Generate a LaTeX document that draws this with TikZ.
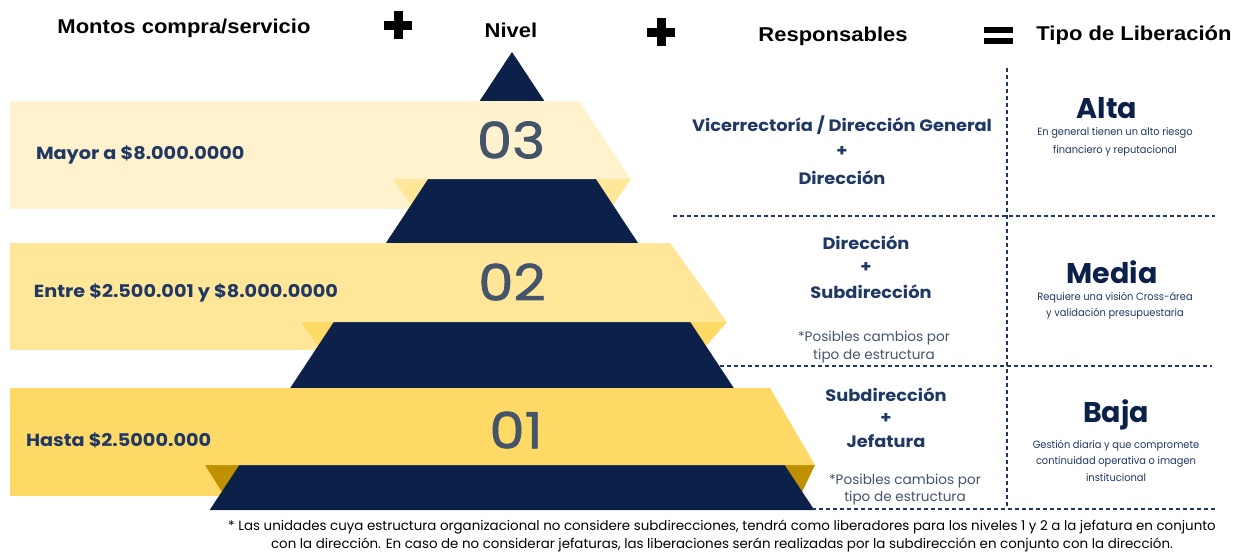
\documentclass[tikz,border=0pt]{standalone}
\usepackage{fontspec}
\setmainfont{Poppins}
\newfontfamily\hdr[FakeStretch=1.1]{Liberation Sans}
\newfontfamily\popw[FakeStretch=1.1]{Poppins}
\newfontfamily\popr[FakeStretch=1.08]{Poppins}
\newfontfamily\popn[FakeStretch=0.94]{Poppins}
\newfontfamily\digits[FakeStretch=1.12,FakeBold=1.5]{Poppins}
\definecolor{navy}{HTML}{0B2149}
\definecolor{tnavy}{HTML}{1F3864}
\definecolor{greyblue}{HTML}{44546A}
\definecolor{cthree}{HTML}{FFF2CC}
\definecolor{cthreef}{HTML}{FFE699}
\definecolor{ctwo}{HTML}{FFE699}
\definecolor{ctwof}{HTML}{FFD966}
\definecolor{cone}{HTML}{FFD966}
\definecolor{conef}{HTML}{BF9000}
\tikzset{
  txt/.style={inner sep=0pt, outer sep=0pt},
  head/.style={txt, font=\hdr\bfseries\fontsize{20}{23}\selectfont, text=black},
  band/.style={txt, anchor=west, font=\popw\bfseries\fontsize{17.5}{20}\selectfont, text=tnavy},
  lvl/.style={txt, font=\digits\fontsize{50}{54}\selectfont, text=greyblue},
  resp/.style={txt, font=\popr\bfseries\fontsize{16.5}{19}\selectfont, text=tnavy},
  note/.style={txt, font=\fontsize{13.6}{16}\selectfont, text=greyblue},
  kind/.style={txt, font=\bfseries\fontsize{28.5}{31}\selectfont, text=navy},
  desc/.style={txt, font=\popn\fontsize{10.5}{12}\selectfont, text=tnavy},
  foot/.style={txt, font=\fontsize{13.4}{15}\selectfont, text=black},
  sep/.style={draw=tnavy, line width=1.1pt, dash pattern=on 4pt off 3pt},
}
\begin{document}
\begin{tikzpicture}[x=1pt,y=-1pt]
\useasboundingbox (0,0) rectangle (1243,554);
% header
\node[head] (h1) at (184,28) {Montos compra/servicio};
\node[head] (h2) at (511,30) {Nivel};
\node[head] (h3) at (833,36) {Responsables};
\node[head] (h4) at (1134,35) {Tipo de Liberación};
\fill[black] (384,21) rectangle (412,30);
\fill[black] (393.5,11) rectangle (402.5,39);
\fill[black] (647,27.5) rectangle (675,36.5);
\fill[black] (656.5,18) rectangle (665.5,46);
\fill[black] (984,27) rectangle (1013,33);
\fill[black] (984,38) rectangle (1013,44);
% band rects
\fill[cthree] (10,101) rectangle (420,209);
\fill[ctwo] (10,243) rectangle (330,350);
\fill[cone] (10,388) rectangle (235,496);
% folds
\fill[cthreef] (393,179) -- (440,179) -- (411,205) -- cycle;
\fill[cthreef] (631,179) -- (584,179) -- (613,205) -- cycle;
\fill[ctwof] (301,322) -- (345,322) -- (318,346) -- cycle;
\fill[ctwof] (727,322) -- (679,322) -- (706,346) -- cycle;
\fill[conef] (205,465) -- (250,465) -- (222,492) -- cycle;
\fill[conef] (815,465) -- (774,465) -- (802,492) -- cycle;
% pyramid
\fill[navy] (512,52) -- (814.3,510) -- (209.7,510) -- cycle;
% ribbon tops
\fill[cthree] (10,101) -- (579,101) -- (631,179) -- (10,179) -- cycle;
\fill[ctwo] (10,243) -- (670,243) -- (727,322) -- (10,322) -- cycle;
\fill[cone] (10,388) -- (770,388) -- (815,465) -- (10,465) -- cycle;
% band texts
\node[band] (b3) at (36,155) {Mayor a \$8.000.0000};
\node[band] (b2) at (34,293) {Entre \$2.500.001 y \$8.000.0000};
\node[band] (b1) at (26,440) {Hasta \$2.5000.000};
\node[lvl] (l3) at (511,140) {03};
\node[lvl] (l2) at (512,282) {02};
\node[lvl] (l1) at (516,430) {01};
% separators
\draw[sep] (1007,68) -- (1007,508);
\draw[sep] (673,216) -- (1215,216);
\draw[sep] (720,366) -- (1212,366);
\draw[sep] (812,509) -- (1215,509);
% responsables
\node[resp] (r3a) at (842,125) {Vicerrectoría / Dirección General};
\node[resp] (r3b) at (842,152) {+};
\node[resp] (r3c) at (842,178) {Dirección};
\node[resp] (r2a) at (866,243) {Dirección};
\node[resp] (r2b) at (866,268) {+};
\node[resp] (r2c) at (871,292) {Subdirección};
\node[note] (n2a) at (874,338) {*Posibles cambios por};
\node[note] (n2b) at (874,356) {tipo de estructura};
\node[resp] (r1a) at (886,395) {Subdirección};
\node[resp] (r1b) at (886,419) {+};
\node[resp] (r1c) at (886,441) {Jefatura};
\node[note] (n1a) at (905,481) {*Posibles cambios por};
\node[note] (n1b) at (905,498) {tipo de estructura};
% tipo
\node[kind] (k3) at (1107,108) {Alta};
\node[desc] (d3a) at (1115,133) {En general tienen un alto riesgo};
\node[desc] (d3b) at (1115,151) {financiero y reputacional};
\node[kind] (k2) at (1112,272) {Media};
\node[desc] (d2a) at (1115,298) {Requiere una visión Cross-área};
\node[desc] (d2b) at (1115,314) {y validación presupuestaria};
\node[kind] (k1) at (1116,415) {Baja};
\node[desc] (d1a) at (1116,446) {Gestión diaria y que compromete};
\node[desc] (d1b) at (1116,462) {continuidad operativa o imagen};
\node[desc] (d1c) at (1116,478) {institucional};
% footer
\node[foot] (f1) at (722,527) {* Las unidades cuya estructura organizacional no considere subdirecciones, tendrá como liberadores para los niveles 1 y 2 a la jefatura en conjunto};
\node[foot] (f2) at (722,545) {con la dirección. En caso de no considerar jefaturas, las liberaciones serán realizadas por la subdirección en conjunto con la dirección.};
\end{tikzpicture}
\end{document}
